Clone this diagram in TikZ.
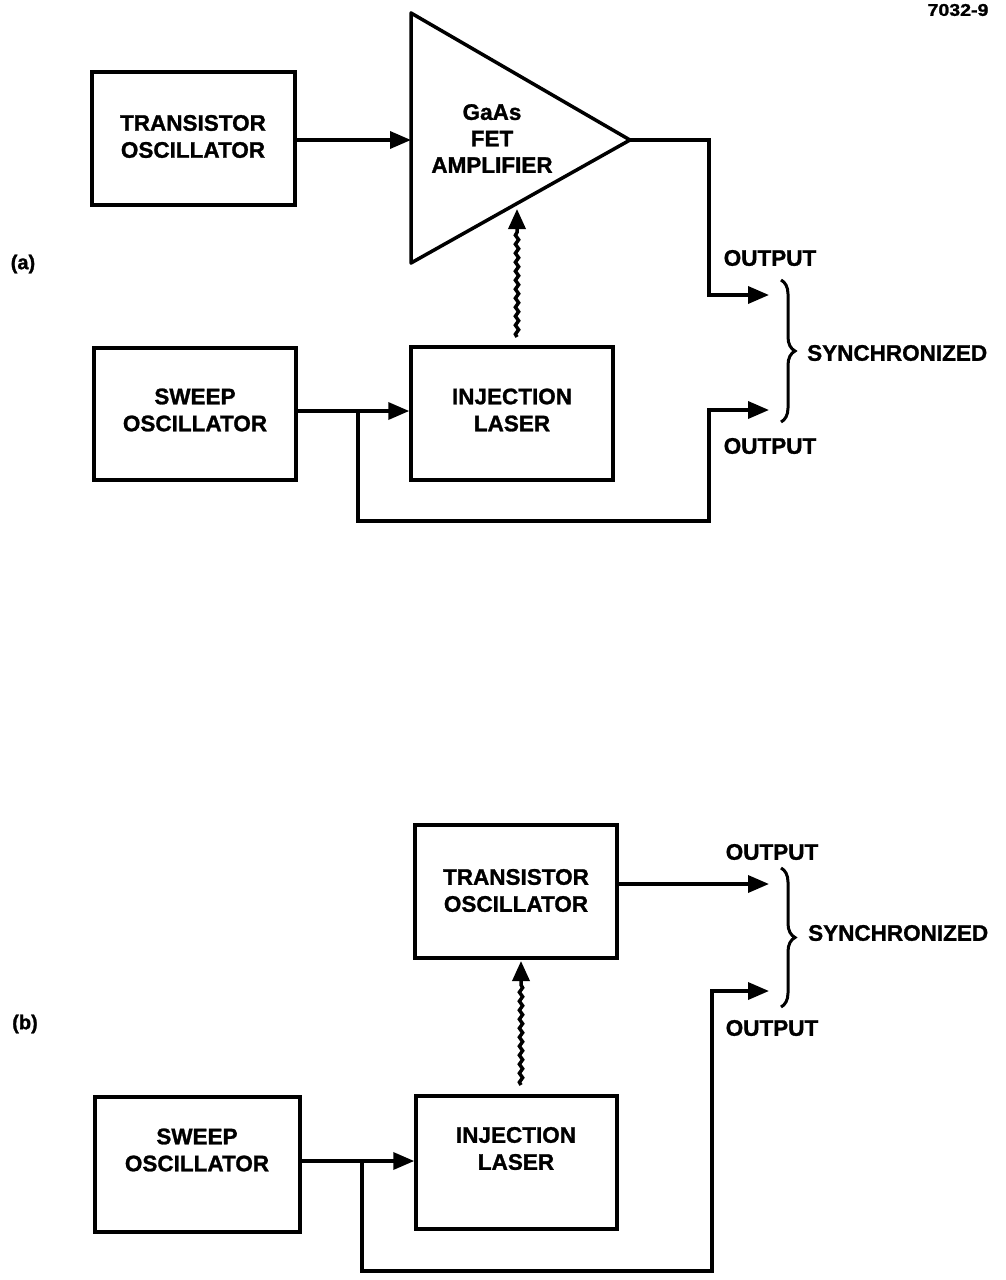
\documentclass[tikz,border=0pt]{standalone}
\usepackage{fontspec}
\setmainfont{Liberation Sans}[BoldFeatures={FakeBold=1.2}]
\usetikzlibrary{arrows.meta,decorations.pathmorphing,decorations.pathreplacing,calc}
\begin{document}
\begin{tikzpicture}[x=1pt,y=-1pt,
  ln/.style={line width=3.5pt,line join=miter},
  arr/.style={ln,-{Triangle[length=21pt,width=17pt]}},
  blk/.style={draw,line width=3.5pt,inner sep=0pt},
  txt/.style={align=center,inner sep=0pt,font=\bfseries\fontsize{22.5}{27}\selectfont},
  wavy/.style={ln,-{Triangle[length=20pt,width=17pt]},decorate,
    decoration={snake,amplitude=1.6pt,segment length=9pt,post length=21pt}},
  brc/.style={line width=3pt,decorate,decoration={brace,amplitude=14pt}}
]
\useasboundingbox[fill=white] (0,0) rectangle (1005,1280);

% ---------- figure number ----------
\node[inner sep=0pt,font=\bfseries\fontsize{17}{20}\selectfont,xscale=1.15] (fignum) at (958,10) {7032-9};

% ---------- part (a) ----------
\node[txt,font=\bfseries\fontsize{20}{24}\selectfont] (labA) at (23,264) {(a)};

\node[blk,minimum width=203pt,minimum height=133pt] (tA) at (193.5,138.5) {};
\node[txt] (tAt) at (193,136.5) {TRANSISTOR\\OSCILLATOR};

\coordinate (ampT) at (411,13);
\coordinate (ampB) at (411,263);
\coordinate (ampTip) at (630,140);
\coordinate (ampL) at (411,140);
\draw[ln,line join=round] (ampT) -- (ampTip) -- (ampB) -- cycle;
\node[txt,text width=140pt,font=\bfseries\fontsize{22.5}{26.5}\selectfont] (ampt) at (492,138.5) {GaAs\\FET\\AMPLIFIER};

\node[blk,minimum width=202pt,minimum height=132pt] (sA) at (195,414) {};
\node[txt] (sAt) at (195,410) {SWEEP\\OSCILLATOR};

\node[blk,minimum width=202pt,minimum height=133pt] (lA) at (512,413.5) {};
\node[txt] (lAt) at (512,410) {INJECTION\\LASER};

\draw[arr] (tA.east |- ampL) -- (ampL);
\draw[arr] (sA.east |- 0,411) -- (lA.west |- 0,411);

\coordinate (wA0) at (517,337);
\coordinate (wA1) at (517,209);
\draw[wavy] (wA0) -- (wA1);

\coordinate (oA1) at (769,295);
\coordinate (oA2) at (769,410);
\coordinate (brA) at (358,411);
\draw[arr] (ampTip) -- (709,140) |- (oA1);
\draw[arr] (brA) -- (358,521) -- (709,521) |- (oA2);

\node[txt] (outA1) at (770,258) {OUTPUT};
\node[txt] (outA2) at (770,446) {OUTPUT};
\coordinate (bA0) at (781,280);
\coordinate (bA1) at (781,422);
\draw[brc] (bA0) -- (bA1);
\node[txt,anchor=west] (synA) at (807,353) {SYNCHRONIZED};

% ---------- part (b) ----------
\node[txt,font=\bfseries\fontsize{20}{24}\selectfont] (labB) at (25,1024) {(b)};

\node[blk,minimum width=202pt,minimum height=133pt] (tB) at (516,891.5) {};
\node[txt] (tBt) at (516,890.5) {TRANSISTOR\\OSCILLATOR};

\node[blk,minimum width=201pt,minimum height=133pt] (lB) at (516.5,1162.5) {};
\node[txt] (lBt) at (516,1148.5) {INJECTION\\LASER};

\node[blk,minimum width=205pt,minimum height=135pt] (sB) at (197.5,1164.5) {};
\node[txt] (sBt) at (197,1150) {SWEEP\\OSCILLATOR};

\draw[arr] (sB.east |- 0,1161) -- (lB.west |- 0,1161);

\coordinate (wB0) at (521,1085);
\coordinate (wB1) at (521,961);
\draw[wavy] (wB0) -- (wB1);

\coordinate (oB1) at (769,884);
\coordinate (oB2) at (769,991);
\coordinate (brB) at (362,1161);
\draw[arr] (tB.east |- oB1) -- (oB1);
\draw[arr] (brB) -- (362,1271) -- (712,1271) |- (oB2);

\node[txt] (outB1) at (772,852) {OUTPUT};
\node[txt] (outB2) at (772,1028) {OUTPUT};
\coordinate (bB0) at (781,868);
\coordinate (bB1) at (781,1007);
\draw[brc] (bB0) -- (bB1);
\node[txt,anchor=west] (synB) at (808,933) {SYNCHRONIZED};
\end{tikzpicture}
\end{document}
